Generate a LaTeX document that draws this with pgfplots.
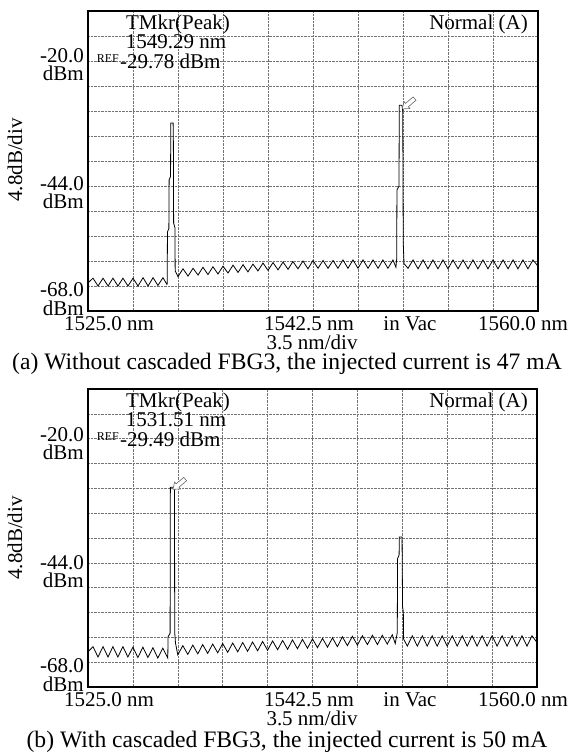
\documentclass[border=0pt]{standalone}
\usepackage{pgfplots}
\pgfplotsset{compat=1.18}
\usepackage{fontspec}
\setmainfont{Liberation Serif}
\newcommand{\bigf}{\fontsize{21}{21}\selectfont}
\newcommand{\capf}{\fontsize{23.6}{24}\selectfont}
\newcommand{\reff}{\fontsize{12}{12}\selectfont}
\pgfplotsset{
  osa/.style={
    anchor=south west, scale only axis,
    xmin=1525, xmax=1560, ymin=-68, ymax=-10.4,
    xtick={1528.5,1532,1535.5,1539,1542.5,1546,1549.5,1553,1556.5},
    ytick={-63.2,-58.4,-53.6,-48.8,-44,-39.2,-34.4,-29.6,-24.8,-20,-15.2},
    xticklabels={}, yticklabels={}, major tick length=0pt,
    grid=major, major grid style={black!55, densely dotted, line width=0.6pt},
    axis line style={line width=1.1pt},
  },
  trace/.style={black, line width=0.8pt, no marks},
}
\begin{document}
\begin{tikzpicture}[x=1pt,y=1pt]
\useasboundingbox (0,0) rectangle (574,756);
% ---------------- panel (a)
\begin{axis}[osa, at={(88pt,445pt)}, width=450pt, height=300pt]
\addplot[trace] coordinates {
(1525.00,-62.6)(1525.39,-61.7)(1525.78,-63.2)(1526.17,-61.7)(1526.56,-63.2)(1526.94,-61.7)
(1527.33,-63.2)(1527.72,-61.7)(1528.11,-63.2)(1528.50,-61.7)(1528.89,-63.2)(1529.28,-61.6)
(1529.67,-63.2)(1530.06,-61.6)(1530.44,-63.1)(1530.83,-61.6)(1531.14,-62.9)
(1531.16,-62.8)(1531.18,-52.8)(1531.29,-52.2)(1531.31,-42.8)(1531.42,-42.2)(1531.44,-31.9)
(1531.62,-31.9)(1531.64,-35.6)(1531.66,-51.1)(1531.76,-52.0)(1531.78,-60.3)
(1532.00,-61.4)(1532.39,-59.9)(1532.78,-61.3)(1533.17,-59.8)(1533.56,-61.1)(1533.94,-59.6)
(1534.33,-61.0)(1534.72,-59.5)(1535.11,-60.9)(1535.50,-59.4)(1535.89,-60.7)(1536.28,-59.2)
(1536.67,-60.6)(1537.06,-59.1)(1537.44,-60.5)(1537.83,-59.0)(1538.22,-60.3)(1538.61,-58.8)
(1539.00,-60.2)(1539.39,-58.7)(1539.78,-60.1)(1540.17,-58.6)(1540.56,-60.0)(1540.94,-58.5)
(1541.33,-59.9)(1541.72,-58.4)(1542.11,-59.9)(1542.50,-58.3)(1542.89,-59.8)(1543.28,-58.3)
(1543.67,-59.8)(1544.06,-58.3)(1544.44,-59.8)(1544.83,-58.2)(1545.22,-59.8)(1545.61,-58.2)
(1546.00,-59.8)(1546.39,-58.2)(1546.78,-59.8)(1547.17,-58.2)(1547.56,-59.8)(1547.94,-58.2)
(1548.33,-59.8)(1548.72,-58.2)(1548.95,-59.6)
(1549.01,-58.0)(1549.03,-44.8)(1549.19,-44.0)(1549.21,-28.5)(1549.42,-28.5)(1549.48,-29.6)
(1549.52,-55.0)(1549.58,-58.9)
(1549.89,-59.8)(1550.28,-58.2)(1550.67,-59.9)(1551.06,-58.2)(1551.44,-59.9)(1551.83,-58.2)
(1552.22,-59.9)(1552.61,-58.2)(1553.00,-59.9)(1553.39,-58.2)(1553.78,-59.9)(1554.17,-58.2)
(1554.56,-59.9)(1554.94,-58.2)(1555.33,-59.9)(1555.72,-58.2)(1556.11,-59.9)(1556.50,-58.2)
(1556.89,-59.9)(1557.28,-58.2)(1557.67,-59.9)(1558.06,-58.2)(1558.44,-59.9)(1558.83,-58.2)
(1559.22,-59.9)(1559.61,-58.2)(1560.00,-59.4)
};
\draw[black!60, fill=white, line width=0.6pt, rotate around={40:(axis cs:1549.45,-29.2)}]
  (axis cs:1549.45,-29.2) -- ++(6pt,4.5pt) -- ++(0pt,-2.3pt) -- ++(10pt,0pt) -- ++(0pt,-4.4pt)
  -- ++(-10pt,0pt) -- ++(0pt,-2.3pt) -- cycle;
\end{axis}
% labels (a)
\node[inner sep=0pt] at (178,732) {\bigf TMkr(Peak)};
\node[inner sep=0pt] at (176,714) {\bigf 1549.29 nm};
\node[inner sep=0pt, anchor=east] at (119,697) {\reff REF};
\node[inner sep=0pt, anchor=west] at (120,695) {\bigf -29.78 dBm};
\node[inner sep=0pt, anchor=east] at (528,732) {\bigf Normal (A)};
\node[inner sep=0pt, anchor=east] at (84,700) {\bigf -20.0};
\node[inner sep=0pt, anchor=east] at (84,683) {\bigf dBm};
\node[inner sep=0pt, anchor=east] at (84,572) {\bigf -44.0};
\node[inner sep=0pt, anchor=east] at (84,555) {\bigf dBm};
\node[inner sep=0pt, anchor=east] at (84,466) {\bigf -68.0};
\node[inner sep=0pt, anchor=east] at (84,448) {\bigf dBm};
\node[inner sep=0pt, rotate=90] at (15,596) {\bigf 4.8dB/div};
\node[inner sep=0pt] at (109,432) {\bigf 1525.0 nm};
\node[inner sep=0pt] at (309,432) {\bigf 1542.5 nm};
\node[inner sep=0pt] at (410,432) {\bigf in Vac};
\node[inner sep=0pt] at (523,432) {\bigf 1560.0 nm};
\node[inner sep=0pt] at (312,414) {\bigf 3.5 nm/div};
\node[inner sep=0pt] at (287,392) {\capf (a) Without cascaded FBG3, the injected current is 47 mA};
% ---------------- panel (b)
\begin{axis}[osa, at={(88pt,69pt)}, width=449pt, height=298pt]
\addplot[trace] coordinates {
(1525.00,-61.2)(1525.39,-60.2)(1525.78,-62.2)(1526.17,-60.2)(1526.56,-62.2)(1526.94,-60.2)
(1527.33,-62.2)(1527.72,-60.2)(1528.11,-62.2)(1528.50,-60.3)(1528.89,-62.3)(1529.28,-60.3)
(1529.67,-62.3)(1530.06,-60.4)(1530.44,-62.4)(1530.83,-60.5)(1531.22,-62.4)
(1531.24,-58.3)(1531.40,-57.6)(1531.42,-29.4)(1531.74,-29.4)(1531.76,-57.5)(1531.82,-59.5)
(1532.00,-61.8)(1532.39,-60.0)(1532.78,-61.7)(1533.17,-59.9)(1533.56,-61.6)(1533.94,-59.8)
(1534.33,-61.5)(1534.72,-59.7)(1535.11,-61.4)(1535.50,-59.6)(1535.89,-61.3)(1536.28,-59.5)
(1536.67,-61.2)(1537.06,-59.4)(1537.44,-61.1)(1537.83,-59.3)(1538.22,-61.0)(1538.61,-59.2)
(1539.00,-60.9)(1539.39,-59.1)(1539.78,-60.8)(1540.17,-59.0)(1540.56,-60.7)(1540.94,-58.9)
(1541.33,-60.6)(1541.72,-58.8)(1542.11,-60.5)(1542.50,-58.7)(1542.89,-60.4)(1543.28,-58.6)
(1543.67,-60.3)(1544.06,-58.5)(1544.44,-60.2)(1544.83,-58.3)(1545.22,-60.0)(1545.61,-58.2)
(1546.00,-59.9)(1546.39,-58.1)(1546.78,-59.8)(1547.17,-58.0)(1547.56,-59.8)(1547.94,-58.0)
(1548.33,-59.7)(1548.72,-57.9)(1548.95,-59.6)
(1549.01,-58.8)(1549.11,-57.5)(1549.13,-43.2)(1549.25,-42.5)(1549.27,-39.0)(1549.48,-39.0)
(1549.52,-52.5)(1549.58,-53.5)(1549.60,-58.7)
(1549.89,-60.1)(1550.28,-58.1)(1550.67,-60.1)(1551.06,-58.1)(1551.44,-60.1)(1551.83,-58.1)
(1552.22,-60.1)(1552.61,-58.1)(1553.00,-60.1)(1553.39,-58.1)(1553.78,-60.1)(1554.17,-58.1)
(1554.56,-60.1)(1554.94,-58.1)(1555.33,-60.1)(1555.72,-58.1)(1556.11,-60.1)(1556.50,-58.1)
(1556.89,-60.1)(1557.28,-58.1)(1557.67,-60.1)(1558.06,-58.1)(1558.44,-60.1)(1558.83,-58.1)
(1559.22,-60.1)(1559.61,-58.1)(1560.00,-59.4)
};
\draw[black!60, fill=white, line width=0.6pt, rotate around={40:(axis cs:1531.62,-29.8)}]
  (axis cs:1531.62,-29.8) -- ++(6pt,4.5pt) -- ++(0pt,-2.3pt) -- ++(10pt,0pt) -- ++(0pt,-4.4pt)
  -- ++(-10pt,0pt) -- ++(0pt,-2.3pt) -- cycle;
\end{axis}
% labels (b)
\node[inner sep=0pt] at (178,354) {\bigf TMkr(Peak)};
\node[inner sep=0pt] at (176,336) {\bigf 1531.51 nm};
\node[inner sep=0pt, anchor=east] at (119,319) {\reff REF};
\node[inner sep=0pt, anchor=west] at (120,317) {\bigf -29.49 dBm};
\node[inner sep=0pt, anchor=east] at (528,354) {\bigf Normal (A)};
\node[inner sep=0pt, anchor=east] at (84,321) {\bigf -20.0};
\node[inner sep=0pt, anchor=east] at (84,304) {\bigf dBm};
\node[inner sep=0pt, anchor=east] at (84,193) {\bigf -44.0};
\node[inner sep=0pt, anchor=east] at (84,176) {\bigf dBm};
\node[inner sep=0pt, anchor=east] at (84,90) {\bigf -68.0};
\node[inner sep=0pt, anchor=east] at (84,72) {\bigf dBm};
\node[inner sep=0pt, rotate=90] at (15,218) {\bigf 4.8dB/div};
\node[inner sep=0pt] at (109,56) {\bigf 1525.0 nm};
\node[inner sep=0pt] at (309,56) {\bigf 1542.5 nm};
\node[inner sep=0pt] at (410,56) {\bigf in Vac};
\node[inner sep=0pt] at (523,56) {\bigf 1560.0 nm};
\node[inner sep=0pt] at (312,38) {\bigf 3.5 nm/div};
\node[inner sep=0pt] at (287,14) {\capf (b) With cascaded FBG3, the injected current is 50 mA};
\end{tikzpicture}
\end{document}
